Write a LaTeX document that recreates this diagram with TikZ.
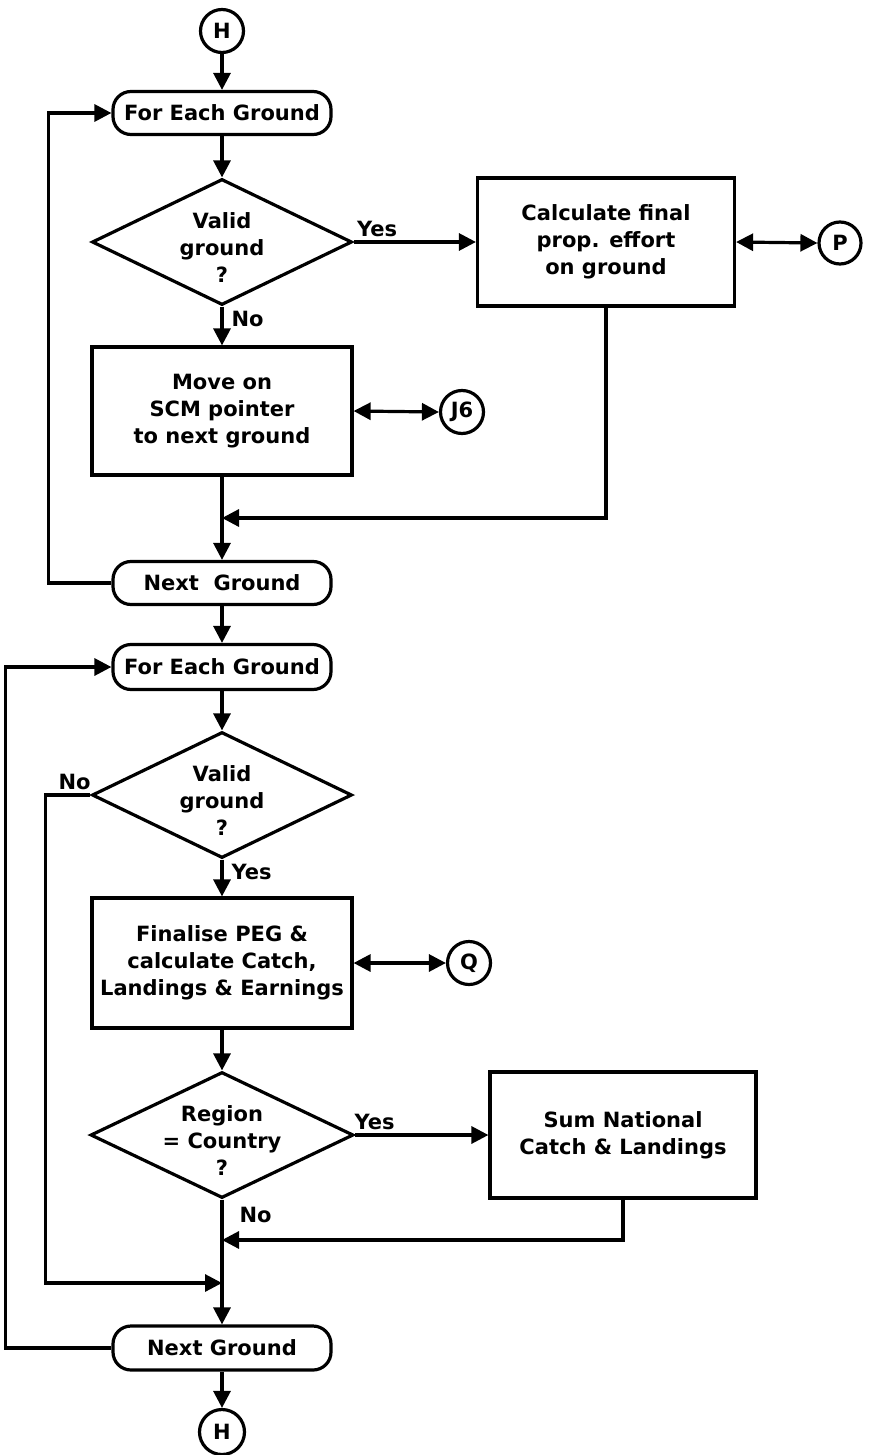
\documentclass[tikz,border=0pt]{standalone}
\usepackage{fontspec}
\setmainfont{DejaVu Sans}
\usetikzlibrary{arrows.meta,shapes.geometric}
\begin{document}
\begin{tikzpicture}[x=1pt,y=-1pt,
  every node/.style={font=\bfseries\fontsize{21}{27}\selectfont, align=center},
  ln/.style={line width=3.2pt, line join=miter},
  arr/.style={ln, -{Triangle[length=17pt,width=17pt]}},
  dbl/.style={ln, {Triangle[length=17pt,width=17pt]}-{Triangle[length=17pt,width=17pt]}},
  term/.style={draw, line width=3.2pt, rectangle, rounded corners=18pt, minimum width=218pt, minimum height=43pt, inner sep=0pt},
  procbox/.style={draw, line width=3.2pt, rectangle, minimum width=260pt, minimum height=128pt, inner sep=0pt},
  dia/.style={draw, line width=3.2pt, diamond, minimum width=260pt, minimum height=126pt, inner sep=0pt},
  conn/.style={draw, line width=3.2pt, circle, minimum size=43pt, inner sep=0pt},
  lbl/.style={inner sep=0pt, anchor=south west}
]
\useasboundingbox (0,0) rectangle (874,1455);

% first loop over grounds
\node[conn] (h1) at (222,31) {H};
\node[term] (fe1) at (222,113) {For Each Ground};
\node[dia] (d1) at (222,242) {};
\node (d1t) at (222,248) {Valid\\ground\\?};
\node[procbox, minimum width=257pt] (b1) at (606,242) {Calculate final\\prop. effort\\on ground};
\node[conn, minimum size=42pt] (p) at (840,243) {P};
\node[procbox] (b2) at (222,411) {Move on\\SCM pointer\\to next ground};
\node[conn] (j6) at (462,412) {J6};
\coordinate (m1) at (222,518);
\node[term] (ng1) at (222,583) {Next~~Ground};

\draw[arr] (h1) -- (fe1);
\draw[arr] (fe1) -- (d1.north);
\draw[arr] (d1.east) -- (b1.west) node[lbl, pos=0, xshift=2pt, yshift=4pt] {Yes};
\draw[dbl] (b1.east) -- (p.west);
\draw[arr] (d1.south) -- (b2.north) node[lbl, pos=0, anchor=north west, xshift=8pt, yshift=-3pt] {No};
\draw[dbl] (b2.east) -- (j6.west);
\draw[arr] (b1.south) |- (m1);
\draw[arr] (b2.south) -- (ng1.north);
\draw[arr] (ng1.west) -| ([xshift=-63pt]fe1.west) -- (fe1.west);

% second loop over grounds
\node[term, minimum height=45pt] (fe2) at (222,667) {For Each Ground};
\node[dia] (d2) at (222,795) {};
\node (d2t) at (222,801) {Valid\\ground\\?};
\node[procbox, minimum height=130pt] (b3) at (222,963) {Finalise PEG \&\\calculate Catch,\\Landings \& Earnings};
\node[conn] (q) at (469,963) {Q};
\node[dia, minimum width=263pt] (d3) at (222,1135) {};
\node (d3t) at (222,1141) {Region\\= Country\\?};
\node[procbox, minimum width=266pt, minimum height=126pt] (b4) at (623,1135) {Sum National\\Catch \& Landings};
\coordinate (m2) at (222,1240);
\coordinate (m3) at (222,1283);
\node[term, minimum height=44pt] (ng2) at (222,1348) {Next Ground};
\node[conn, minimum size=45pt] (h2) at (222,1432) {H};

\draw[arr] (ng1) -- (fe2);
\draw[arr] (fe2) -- (d2.north);
\draw[arr] (d2.south) -- (b3.north) node[lbl, pos=0, anchor=north west, xshift=8pt, yshift=-3pt] {Yes};
\draw[dbl] (b3.east) -- (q.west);
\draw[arr] (b3.south) -- (d3.north);
\draw[arr] (d3.east) -- (b4.west) node[lbl, pos=0, xshift=-2pt, yshift=4pt] {Yes};
\draw[ln] (d3.south) -- (m2) node[lbl, pos=0, anchor=north west, xshift=16pt, yshift=-6pt] {No};
\draw[arr] (m2) -- (ng2.north);
\draw[arr] (b4.south) |- (m2);
\draw[arr] (d2.west) -- ++(-45,0) node[lbl, pos=0.35, anchor=south, yshift=4pt] {No} |- (m3);
\draw[arr] (ng2.west) -| ([xshift=-106pt]fe2.west) -- (fe2.west);
\draw[arr] (ng2) -- (h2);
\end{tikzpicture}
\end{document}
